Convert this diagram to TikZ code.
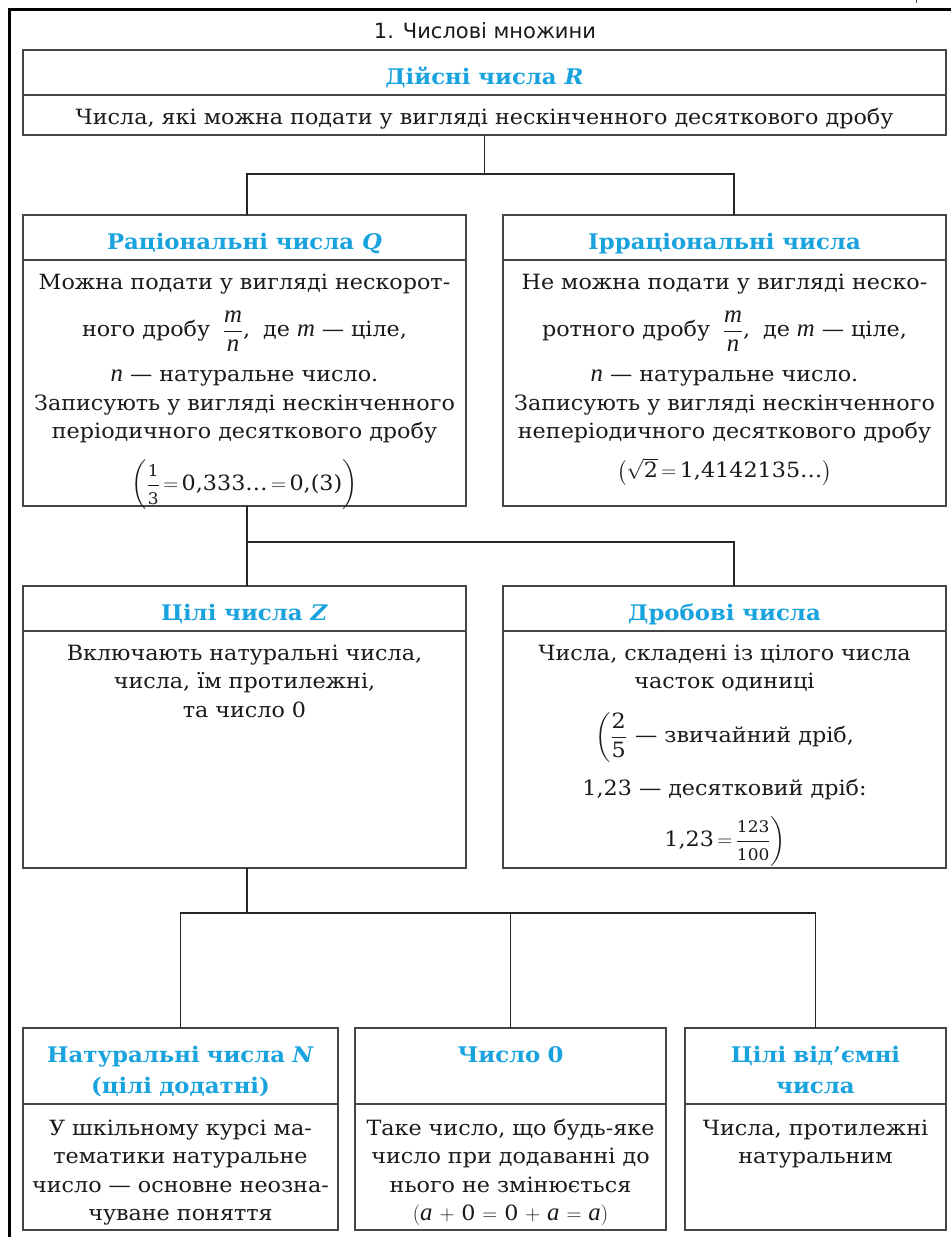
\documentclass[tikz,border=0pt]{standalone}
\usepackage{amsmath}
\usepackage{fontspec}
\setmainfont{DejaVu Serif}[FakeStretch=1.06]
\newfontfamily\titlefont{DejaVu Sans}
\newfontfamily\itfont{Liberation Serif}[Scale=1.18]
\definecolor{hcyan}{HTML}{18A2DE}
\definecolor{bline}{HTML}{454545}
\definecolor{ink}{HTML}{1A1A1A}
\newcommand\sfr[2]{\dfrac{\text{\fontsize{16}{16}\selectfont #1}}{\text{\fontsize{16}{16}\selectfont #2}}}
\newcommand\tn[1]{\text{#1}}
\newcommand\iv[1]{\text{\itfont\itshape #1}}
\tikzset{
  frame/.style={line width=3pt, draw=black},
  cell/.style={draw=bline, line width=1.5pt, rectangle, inner sep=0pt, outer sep=0pt, anchor=north west},
  conn/.style={draw=black!85, line width=1.2pt},
  hdr/.style={anchor=base, text=hcyan, font=\fontsize{21.5}{31}\selectfont\bfseries, inner sep=0pt, align=center},
  bodytxt/.style={anchor=base, text=ink, font=\fontsize{21}{28.5}\selectfont, inner sep=0pt, align=center},
}
\begin{document}
\begin{tikzpicture}[x=1pt,y=-1pt]
\lineskiplimit=-100pt\relax
\thickmuskip=5mu\relax
\medmuskip=4mu\relax
\useasboundingbox (0,0) rectangle (951,1237);
\fill[white] (0,0) rectangle (951,1237);
\draw[frame] (9,1237) -- (9,9) -- (951,9);
\draw[line width=0.8pt, black!70] (916,0) -- (916,3);

\node[anchor=base, text=ink, font=\titlefont\fontsize{21}{24}\selectfont, inner sep=0pt] (title) at (485,38) {1. Числові множини};

% ---------- Real numbers
\node[cell, minimum width=923pt, minimum height=45pt] (Rh) at (23,50) {};
\node[cell, minimum width=923pt, minimum height=40pt] (Rb) at (23,95) {};
\node[hdr] (Rt) at (484.5,84) {Дійсні числа \textit{R}};
\node[bodytxt] (Rd) at (484.5,124) {Числа, які можна подати у вигляді нескінченного десяткового дробу};

% ---------- Rational / irrational
\node[cell, minimum width=443pt, minimum height=45pt] (Qh) at (23,215) {};
\node[cell, minimum width=443pt, minimum height=246pt] (Qb) at (23,260) {};
\node[cell, minimum width=443pt, minimum height=45pt] (Ih) at (503,215) {};
\node[cell, minimum width=443pt, minimum height=246pt] (Ib) at (503,260) {};
\node[hdr] (Qt) at (244.5,249) {Раціональні числа \textit{Q}};
\node[hdr] (It) at (724.5,249) {Ірраціональні числа};
\node[bodytxt, text width=440pt] (Qd) at (244.5,289) {Можна подати у вигляді нескорот-\\[16.5pt]
ного дробу $\;\dfrac{\iv{m}}{\iv{n}}$,\; де \iv{m} — ціле,\\[16.5pt]
\iv{n} — натуральне число.\\
Записують у вигляді нескінченного\\
періодичного десяткового дробу\\[15.5pt]
$\thickmuskip=3mu\left(\vphantom{\dfrac{1}{3}}\sfr{1}{3}=\tn{0,333\ldots}=\tn{0,(3)}\right)$};
\node[bodytxt, text width=440pt] (Id) at (724.5,289) {Не можна подати у вигляді неско-\\[16.5pt]
ротного дробу $\;\dfrac{\iv{m}}{\iv{n}}$,\; де \iv{m} — ціле,\\[16.5pt]
\iv{n} — натуральне число.\\
Записують у вигляді нескінченного\\
неперіодичного десяткового дробу\\[10.5pt]
$\thickmuskip=3mu\bigl(\sqrt{\tn{2}}=\tn{1,4142135\ldots}\bigr)$};

% ---------- Integers / fractions
\node[cell, minimum width=443pt, minimum height=45pt] (Zh) at (23,586) {};
\node[cell, minimum width=443pt, minimum height=237pt] (Zb) at (23,631) {};
\node[cell, minimum width=443pt, minimum height=45pt] (Fh) at (503,586) {};
\node[cell, minimum width=443pt, minimum height=237pt] (Fb) at (503,631) {};
\node[hdr] (Zt) at (244.5,620) {Цілі числа \textit{Z}};
\node[hdr] (Ft) at (724.5,620) {Дробові числа};
\node[bodytxt, text width=440pt] (Zd) at (244.5,660) {Включають натуральні числа,\\
числа, їм протилежні,\\
та число 0};
\node[bodytxt, text width=440pt] (Fd) at (724.5,660) {Числа, складені із цілого числа\\
часток одиниці\\[20.5pt]
$\left(\dfrac{\tn{2}}{\tn{5}}\right.$ — звичайний дріб,\\[15.5pt]
1,23 — десятковий дріб:\\[15.5pt]
$\thickmuskip=3mu\left.\tn{1,23}=\vphantom{\dfrac{1}{3}}\sfr{123}{100}\right)$};

% ---------- Bottom row
\node[cell, minimum width=315pt, minimum height=76pt] (Nh) at (23,1028) {};
\node[cell, minimum width=315pt, minimum height=126pt] (Nb) at (23,1104) {};
\node[cell, minimum width=311pt, minimum height=76pt] (Oh) at (355,1028) {};
\node[cell, minimum width=311pt, minimum height=126pt] (Ob) at (355,1104) {};
\node[cell, minimum width=261pt, minimum height=76pt] (Eh) at (685,1028) {};
\node[cell, minimum width=261pt, minimum height=126pt] (Eb) at (685,1104) {};
\node[hdr, text width=310pt] (Nt) at (180.5,1062) {Натуральні числа \textit{N}\\(цілі додатні)};
\node[hdr, text width=305pt] (Ot) at (510.5,1062) {Число 0};
\node[hdr, text width=255pt] (Et) at (815.5,1062) {Цілі від’ємні\\числа};
\node[bodytxt, text width=312pt] (Nd) at (180.5,1135) {У шкільному курсі ма-\\
тематики натуральне\\
число — основне неозна-\\
чуване поняття};
\node[bodytxt, text width=308pt] (Od) at (510.5,1135) {Таке число, що будь-яке\\
число при додаванні до\\
нього не змінюється\\
$\thickmuskip=6mu\medmuskip=6mu(\iv{a}+\tn{0}=\tn{0}+\iv{a}=\iv{a})$};
\node[bodytxt, text width=258pt] (Ed) at (815.5,1135) {Числа, протилежні\\
натуральним};

% ---------- Connectors
\path (247,0) coordinate (xq) (734,0) coordinate (xi);
\path (0,174) coordinate (y1) (0,913) coordinate (y3);
\draw[conn] (Rb.south) -- (Rb.south |- y1);
\draw[conn] (Qh.north -| xq) -- ++(0,-41) -| (Ih.north -| xi);
\draw[conn] (Qb.south -| xq) -- (Zh.north -| xq);
\draw[conn] (Qb.south -| xq) ++(0,36) -| (Fh.north -| xi);
\draw[conn] (Zb.south -| xq) -- (xq |- y3);
\draw[conn] (Nh.north) -- (Nh.north |- y3) -- (Eh.north |- y3) -- (Eh.north);
\draw[conn] (Oh.north) -- (Oh.north |- y3);
\end{tikzpicture}
\end{document}
